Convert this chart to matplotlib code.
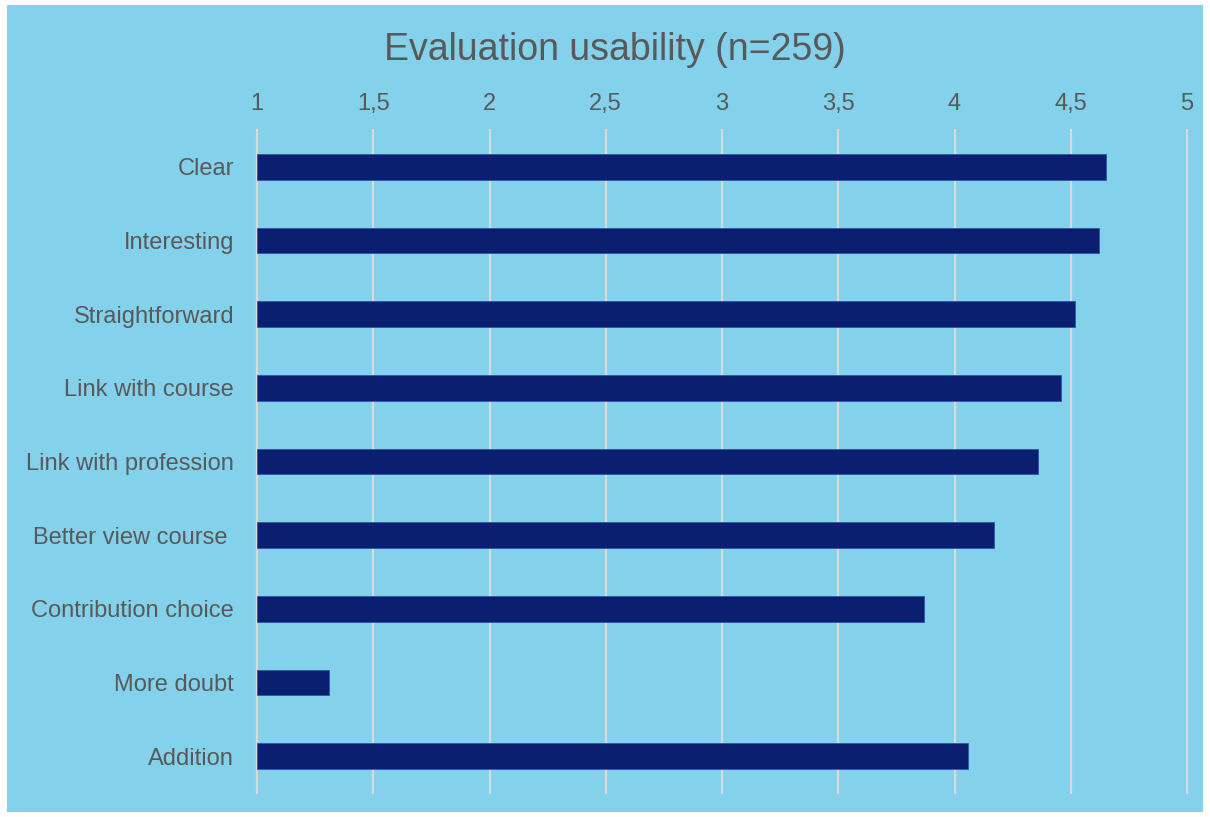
import matplotlib
matplotlib.use("Agg")
import matplotlib.pyplot as plt
from matplotlib.patches import Rectangle

plt.rcParams['font.family'] = ['Liberation Sans', 'DejaVu Sans']

categories = ["Clear", "Interesting", "Straightforward", "Link with course",
              "Link with profession", "Better view course ", "Contribution choice",
              "More doubt", "Addition"]
scores = [4.65, 4.62, 4.52, 4.46, 4.36, 4.17, 3.87, 1.31, 4.06]
xticks = [1, 1.5, 2, 2.5, 3, 3.5, 4, 4.5, 5]
xticklabels = ["1", "1,5", "2", "2,5", "3", "3,5", "4", "4,5", "5"]

bg = "#84D1EC"
bar_col = "#0B1F71"
txt = "#595959"

W, H = 1210, 817
fig = plt.figure(figsize=(W / 100, H / 100), dpi=100, facecolor="white")
fig.patches.append(Rectangle((7 / W, 1 - 812 / H), (1203 - 7) / W, (812 - 5) / H,
                             transform=fig.transFigure, facecolor=bg,
                             edgecolor="none", zorder=-10))

ax = fig.add_axes([257 / W, 1 - 793 / H, (1187 - 257) / W, (793 - 130) / H])
ax.set_facecolor("none")

ypos = list(range(len(categories)))
ax.barh(ypos, [s - 1 for s in scores], left=1, height=0.35, color=bar_col,
        edgecolor="#2F55A8", linewidth=0.6, zorder=3)

ax.set_xlim(1, 5)
ax.set_ylim(len(categories) - 0.5, -0.5)
ax.set_xticks(xticks)
ax.set_xticklabels(xticklabels)
ax.set_yticks(ypos)
ax.set_yticklabels(categories)
ax.xaxis.tick_top()
ax.tick_params(axis="both", length=0, labelsize=17, colors=txt)
ax.tick_params(axis="x", pad=11)
ax.tick_params(axis="y", pad=16.5)
ax.grid(axis="x", color="#D9D9D9", linewidth=1.6, zorder=1)
for gl in ax.get_xgridlines():
    gl.set_clip_on(False)
for s in ax.spines.values():
    s.set_visible(False)

fig.text(615 / W, 1 - 50 / H, "Evaluation usability (n=259)", ha="center",
         va="center", fontsize=27, color=txt)

fig.savefig("out.png", dpi=100, facecolor="white")
